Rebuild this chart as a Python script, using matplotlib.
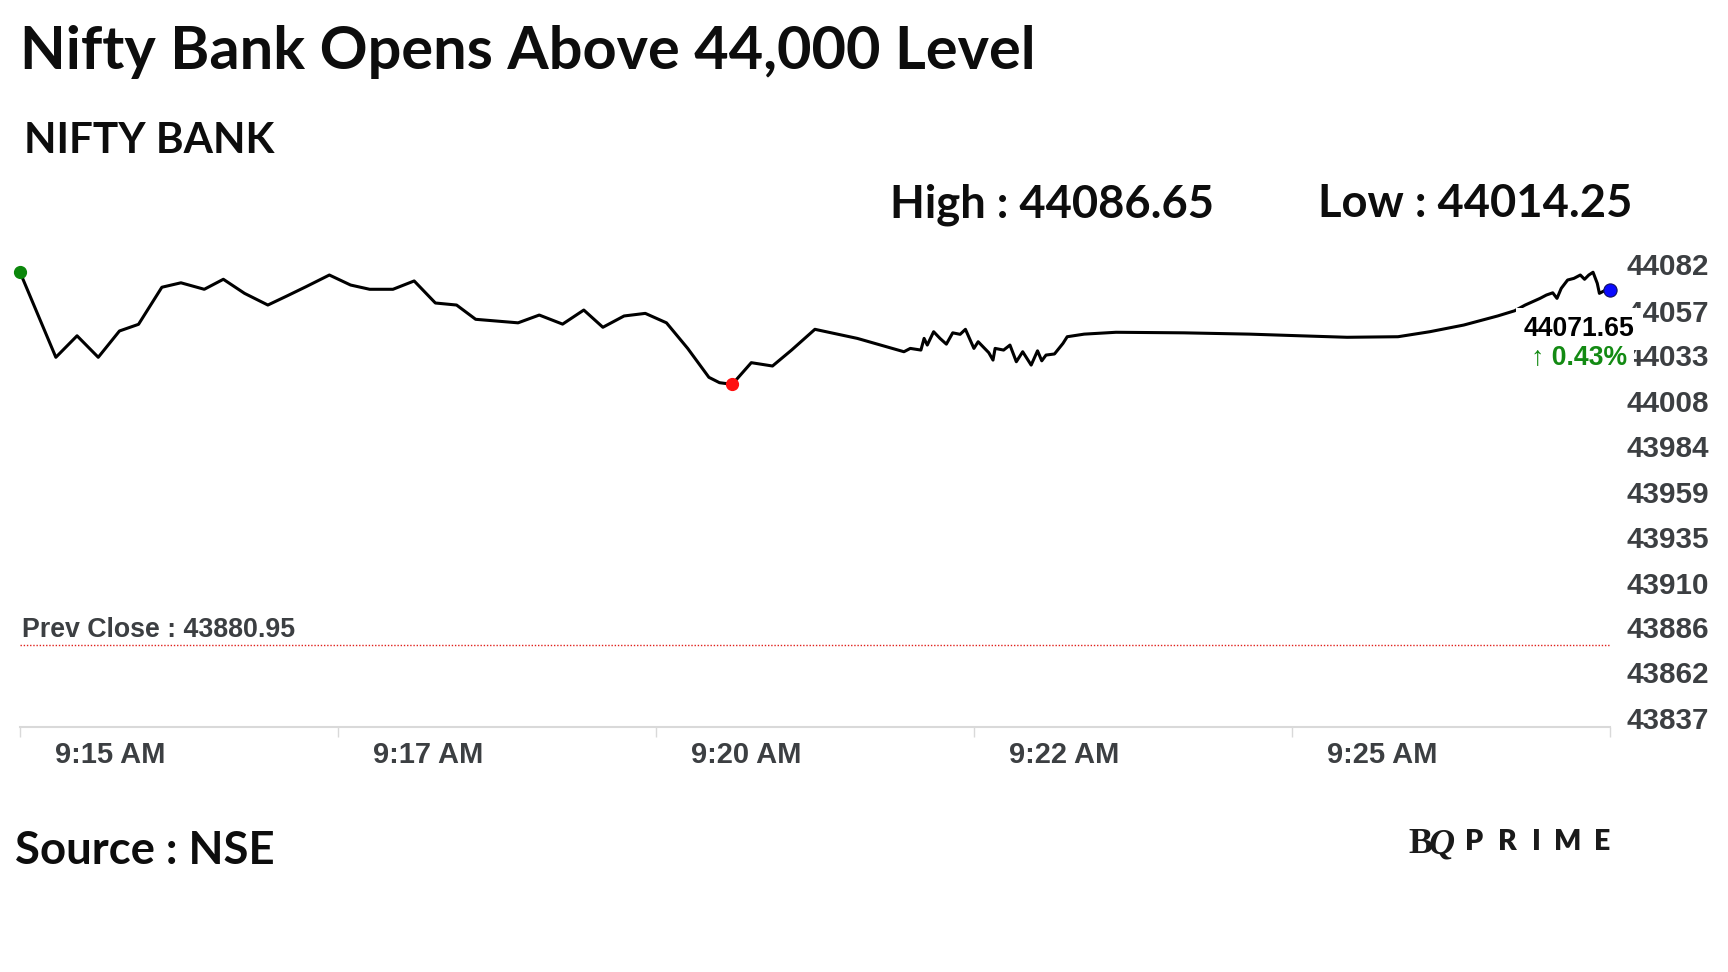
import matplotlib
matplotlib.use("Agg")
import matplotlib.pyplot as plt
import matplotlib.transforms as mtransforms
import numpy as np

# ---------------- data ----------------
# seconds after 9:15 AM
seconds = [0, 17, 27, 37, 47, 56, 67, 76, 87, 96, 106, 117, 126, 135, 146, 156, 165, 176,
           186, 196, 206, 215, 235, 245, 256, 266, 275, 285, 295, 305, 315, 325, 330, 336,
           345, 355, 364, 375, 395, 417, 420, 425, 426.5, 428, 431, 434, 437, 440, 443.5,
           446, 450, 452, 457, 459, 460, 464, 467, 470, 473, 477, 480, 482, 484, 488, 492,
           494, 502, 517, 549, 580, 604, 626, 650, 665, 681, 697, 705, 710, 717, 720, 723,
           725, 727, 730, 733, 736, 738, 740, 742, 744, 745, 748, 750]
values = [44082.3, 44036.1, 44047.7, 44036.1, 44050.3, 44053.9, 44073.9, 44076.3, 44072.8,
          44078.2, 44070.6, 44064.3, 44069.2, 44074.2, 44080.5, 44075.1, 44072.8, 44072.8,
          44077.3, 44065.4, 44064.3, 44056.6, 44054.7, 44058.9, 44054.0, 44061.6, 44052.3,
          44058.4, 44059.8, 44054.7, 44040.9, 44025.3, 44022.4, 44021.5, 44033.2, 44031.4,
          44040.0, 44051.2, 44046.3, 44039.1, 44040.9, 44040.0, 44046.3, 44042.7, 44049.9,
          44046.3, 44043.2, 44049.3, 44048.5, 44051.2, 44040.9, 44044.5, 44038.6, 44034.6,
          44040.9, 44040.0, 44042.7, 44033.7, 44039.1, 44031.9, 44039.6, 44034.2, 44037.3,
          44037.9, 44043.6, 44047.2, 44048.6, 44049.6, 44049.3, 44048.6, 44047.7, 44046.9,
          44047.2, 44049.9, 44053.5, 44058.4, 44061.2, 44064.3, 44067.9, 44069.7, 44070.9,
          44067.9, 44073.3, 44077.8, 44078.7, 44080.5, 44078.2, 44080.5, 44082.0, 44076.0,
          44070.6, 44072.4, 44072.4]

x_tick_seconds = [0, 150, 300, 450, 600, 750]
x_tick_labels = ["9:15 AM", "9:17 AM", "9:20 AM", "9:22 AM", "9:25 AM", ""]
y_tick_values = [43837, 43862, 43886, 43910, 43935, 43959, 43984, 44008, 44033, 44057, 44082]

prev_close = 43880.95
day_high = 44086.65
day_low = 44014.25
last_price = 44071.65
pct_change = 0.43

title = "Nifty Bank Opens Above 44,000 Level"
subtitle = "NIFTY BANK"
source = "Source : NSE"

# ---------------- figure ----------------
W, H, DPI = 1728, 972, 100
fig = plt.figure(figsize=(W / DPI, H / DPI), dpi=DPI)
fig.patch.set_facecolor("white")


def fx(px):
    return px / W


def fy(py):
    return 1 - py / H


HEAD_FONT = ["Lato", "DejaVu Sans"]
ARIAL = ["Liberation Sans", "DejaVu Sans"]
GREY = "#3c3f42"

ax = fig.add_axes([fx(19.8), fy(727), fx(1610) - fx(19.8), (727 - 250) / H])
ax.set_xlim(0, 750)
ax.set_ylim(43836.6, 44094.0)
ax.set_facecolor("white")

# line and markers
ax.plot(seconds, values, color="black", lw=2.2, solid_joinstyle="round",
        solid_capstyle="round", zorder=3, clip_on=False)
i_hi = int(np.argmax(values))
i_lo = int(np.argmin(values))
ax.plot(seconds[i_hi], values[i_hi], "o", ms=8.5, color="#0b870b", zorder=4,
        clip_on=False)
ax.plot(seconds[i_lo], values[i_lo], "o", ms=8.5, color="#ff1010", zorder=4,
        clip_on=False)
ax.plot(seconds[-1], values[-1], "o", ms=9.5, color="#0a0aff", mec="#101060",
        mew=0.8, zorder=4, clip_on=False)

# previous close
ax.axhline(prev_close, color="#e0201c", lw=1.0, ls=(0, (1, 1.3)), zorder=2)
ax.annotate(f"Prev Close : {prev_close:.2f}", xy=(0, prev_close),
            xytext=(1.5, 5.8), textcoords="offset points", ha="left",
            va="baseline", fontsize=19.3, fontweight="bold", color=GREY,
            family=ARIAL)

# last price labels
ax.annotate(f"{last_price:.2f}", xy=(seconds[-1], values[-1]),
            xytext=(-30.5 * 0.72, -39 * 0.72), textcoords="offset points",
            ha="center", va="center", fontsize=19.2, fontweight="bold",
            color="black", family=ARIAL, zorder=6, annotation_clip=False,
            bbox=dict(boxstyle="square,pad=0.3", fc="white", ec="none"))
ax.annotate(f"\u2191 {pct_change:.2f}%", xy=(seconds[-1], values[-1]),
            xytext=(-30.5 * 0.72, -67 * 0.72), textcoords="offset points",
            ha="center", va="center", fontsize=19.2, fontweight="bold",
            color="#138a13", family=ARIAL, zorder=6, annotation_clip=False,
            bbox=dict(boxstyle="square,pad=0.25", fc="white", ec="none"))

# spines
for s in ["top", "left", "right"]:
    ax.spines[s].set_visible(False)
ax.spines["bottom"].set_color("#d9d9d9")
ax.spines["bottom"].set_linewidth(1.5)

# x ticks
ax.set_xticks(x_tick_seconds, x_tick_labels)
ax.tick_params(axis="x", length=7, width=1, color="#d9d9d9", pad=3.4,
               labelsize=21, labelcolor=GREY)
xoff = mtransforms.ScaledTranslation(35 / DPI, 0, fig.dpi_scale_trans)
for lab in ax.get_xticklabels():
    lab.set_ha("left")
    lab.set_fontweight("bold")
    lab.set_family(ARIAL)
    lab.set_transform(lab.get_transform() + xoff)

# y ticks
ax.yaxis.tick_right()
ax.set_yticks(y_tick_values, [str(v) for v in y_tick_values])
ax.tick_params(axis="y", length=0, pad=12.2, labelsize=21.3, labelcolor=GREY)
yoff = mtransforms.ScaledTranslation(0, 8 / DPI, fig.dpi_scale_trans)
for lab in ax.get_yticklabels():
    lab.set_fontweight("bold")
    lab.set_family(ARIAL)
    lab.set_transform(lab.get_transform() + yoff)

# ---------------- header / footer texts ----------------
t_title = fig.text(fx(20), fy(69), title, ha="left", va="baseline", fontsize=44,
                   fontweight="bold", family=HEAD_FONT, color="#0d0d0d")
t_sub = fig.text(fx(24.2), fy(153), subtitle, ha="left", va="baseline", fontsize=32,
                 fontweight="bold", family=HEAD_FONT, color="#0d0d0d")
t_high = fig.text(fx(890.4), fy(217), f"High : {day_high:.2f}", ha="left",
                  va="baseline", fontsize=32, fontweight="bold", family=HEAD_FONT,
                  color="#0d0d0d")
t_low = fig.text(fx(1318), fy(217), f"Low : {day_low:.2f}", ha="left",
                 va="baseline", fontsize=32, fontweight="bold", family=HEAD_FONT,
                 color="#0d0d0d")
t_src = fig.text(fx(15.4), fy(864), source, ha="left", va="baseline", fontsize=32,
                 fontweight="bold", family=HEAD_FONT, color="#0d0d0d")

# logo
fig.text(fx(1408), fy(853), "B", ha="left", va="baseline", fontsize=26,
         fontweight="bold", family=["Liberation Serif", "DejaVu Serif"], color="#1a1a1a")
fig.text(fx(1429), fy(853), "Q", ha="left", va="baseline", fontsize=26,
         fontweight="bold", fontstyle="italic",
         family=["Liberation Serif", "DejaVu Serif"], color="#1a1a1a")
for ch, cx in zip("PRIME", [1474, 1507, 1536, 1568, 1602]):
    fig.text(fx(cx), fy(850), ch, ha="center", va="baseline", fontsize=20.5,
             fontweight="heavy", family=HEAD_FONT, color="#1a1a1a")

# fit header widths to the reference
fig.canvas.draw()
r = fig.canvas.get_renderer()
for t, target in [(t_title, 1016), (t_sub, 251), (t_high, 326), (t_low, 315),
                  (t_src, 261)]:
    w = t.get_window_extent(r).width
    t.set_fontsize(t.get_fontsize() * target / w)

fig.savefig("out.png", dpi=DPI, facecolor="white")
